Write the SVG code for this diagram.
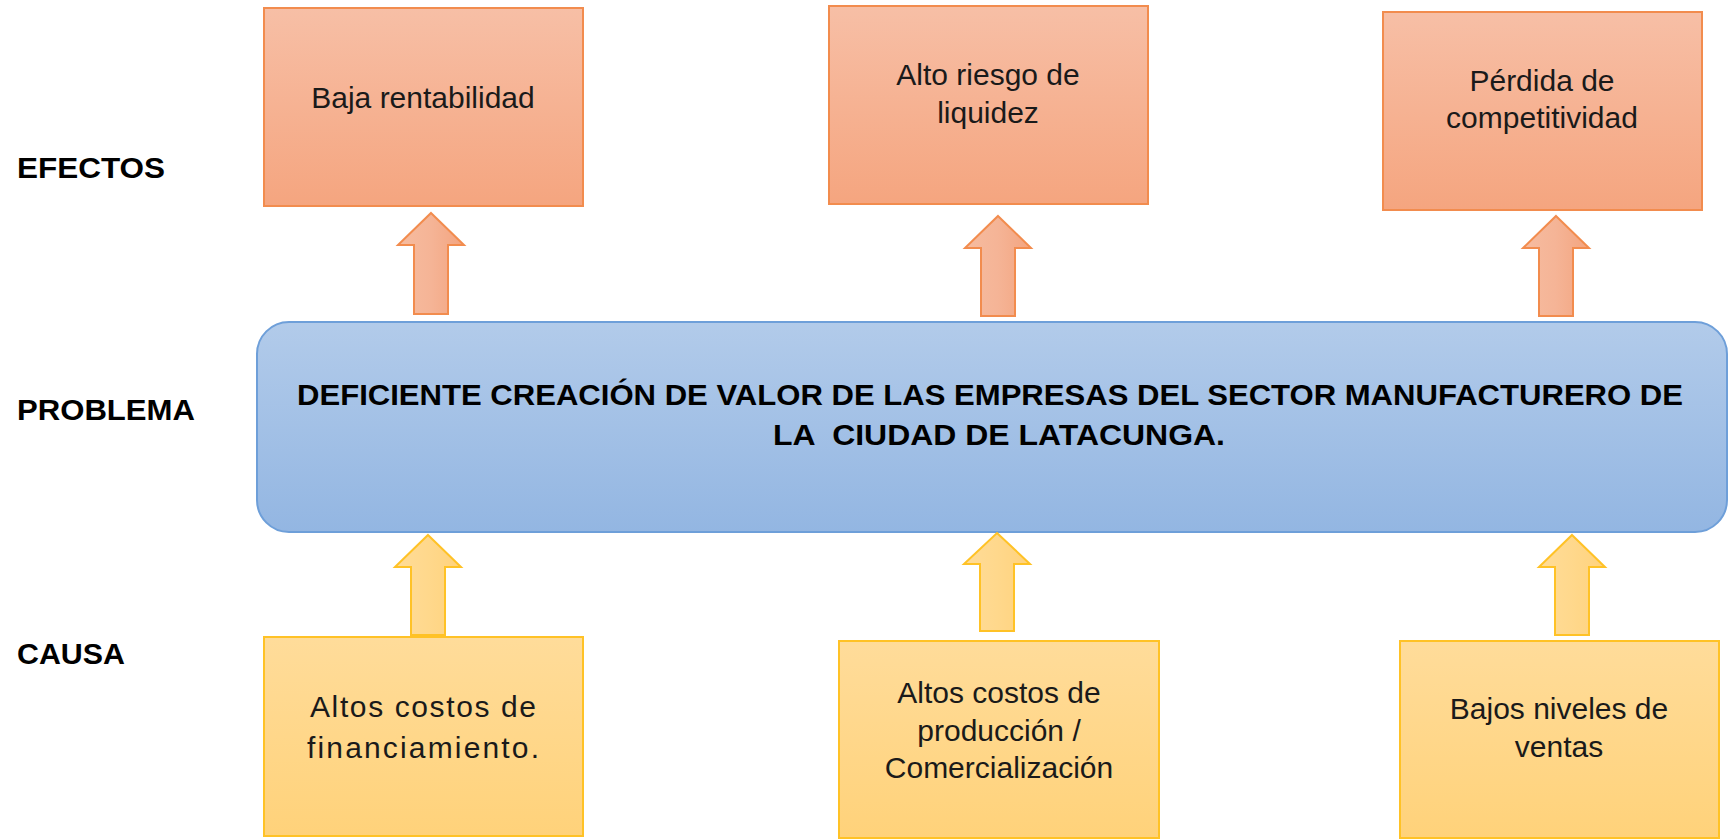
<svg xmlns="http://www.w3.org/2000/svg" width="1731" height="839" viewBox="0 0 1731 839">
<defs>
<linearGradient id="gOrange" x1="0" y1="0" x2="0" y2="1"><stop offset="0" stop-color="#F7BFA6"/><stop offset="1" stop-color="#F5A57F"/></linearGradient>
<linearGradient id="gYellow" x1="0" y1="0" x2="0" y2="1"><stop offset="0" stop-color="#FFDC9A"/><stop offset="1" stop-color="#FFD27A"/></linearGradient>
<linearGradient id="gBlue" x1="0" y1="0" x2="0" y2="1"><stop offset="0" stop-color="#B2CBEA"/><stop offset="1" stop-color="#93B6E2"/></linearGradient>
<linearGradient id="gArrO" x1="0" y1="0" x2="1" y2="0"><stop offset="0" stop-color="#F6BCA0"/><stop offset="0.5" stop-color="#F5B496"/><stop offset="1" stop-color="#F3A47F"/></linearGradient>
<linearGradient id="gArrY" x1="0" y1="0" x2="1" y2="0"><stop offset="0" stop-color="#FFDC98"/><stop offset="0.5" stop-color="#FFD88C"/><stop offset="1" stop-color="#FFD27C"/></linearGradient>
</defs>
<style>
.eff{fill:url(#gOrange);stroke:#F28C4E;stroke-width:2}
.cau{fill:url(#gYellow);stroke:#FFC226;stroke-width:2}
.prob{fill:url(#gBlue);stroke:#6E9FD9;stroke-width:2}
.arrO{fill:url(#gArrO);stroke:#F28C4E;stroke-width:2;stroke-linejoin:miter}
.arrY{fill:url(#gArrY);stroke:#FFC226;stroke-width:2;stroke-linejoin:miter}
.t{font-family:"Liberation Sans",Arial,sans-serif;font-size:30px;fill:#1a1a1a;text-anchor:middle}
.lbl{font-family:"Liberation Sans",Arial,sans-serif;font-size:29px;font-weight:bold;fill:#000}
.pt{font-family:"Liberation Sans",Arial,sans-serif;font-size:29px;font-weight:bold;fill:#000}
</style>
<rect width="1731" height="839" fill="#ffffff"/>

<g id="labels">
<text class="lbl" x="17" y="178" textLength="148" lengthAdjust="spacingAndGlyphs">EFECTOS</text>
<text class="lbl" x="17" y="420" textLength="178" lengthAdjust="spacingAndGlyphs">PROBLEMA</text>
<text class="lbl" x="17" y="664" textLength="108" lengthAdjust="spacingAndGlyphs">CAUSA</text>
</g>

<g id="efecto1">
<rect class="eff" x="264" y="8" width="319" height="198"/>
<text class="t" x="423" y="108">Baja rentabilidad</text>
</g>
<g id="efecto2">
<rect class="eff" x="829" y="6" width="319" height="198"/>
<text class="t" x="988" y="85">Alto riesgo de</text>
<text class="t" x="988" y="123">liquidez</text>
</g>
<g id="efecto3">
<rect class="eff" x="1383" y="12" width="319" height="198"/>
<text class="t" x="1542" y="91">Pérdida de</text>
<text class="t" x="1542" y="128">competitividad</text>
</g>

<g id="problema">
<rect class="prob" x="257" y="322" width="1470" height="210" rx="32" ry="32"/>
<text class="pt" x="297" y="405" textLength="1386" lengthAdjust="spacingAndGlyphs">DEFICIENTE CREACIÓN DE VALOR DE LAS EMPRESAS DEL SECTOR MANUFACTURERO DE</text>
<text class="pt" x="773" y="445" textLength="452" lengthAdjust="spacingAndGlyphs" xml:space="preserve">LA  CIUDAD DE LATACUNGA.</text>
</g>

<g id="causa1">
<rect class="cau" x="264" y="637" width="319" height="199"/>
<text class="t" x="423" y="717" textLength="226" lengthAdjust="spacing">Altos costos de</text>
<text class="t" x="423" y="758" textLength="232" lengthAdjust="spacing">financiamiento.</text>
</g>
<g id="causa2">
<rect class="cau" x="839" y="641" width="320" height="197"/>
<text class="t" x="999" y="703">Altos costos de</text>
<text class="t" x="999" y="741">producción /</text>
<text class="t" x="999" y="778">Comercialización</text>
</g>
<g id="causa3">
<rect class="cau" x="1400" y="641" width="319" height="197"/>
<text class="t" x="1559" y="719">Bajos niveles de</text>
<text class="t" x="1559" y="757">ventas</text>
</g>

<g id="connectors">
<polygon class="arrO" points="431,213 464,245 448,245 448,314 414,314 414,245 398,245"/>
<polygon class="arrO" points="998,216 1031,248 1015,248 1015,316 981,316 981,248 965,248"/>
<polygon class="arrO" points="1556,216 1589,248 1573,248 1573,316 1539,316 1539,248 1523,248"/>
<polygon class="arrY" points="428,535 461,567 445,567 445,635 411,635 411,567 395,567"/>
<polygon class="arrY" points="997,533 1030,564 1014,564 1014,631 980,631 980,564 964,564"/>
<polygon class="arrY" points="1572,535 1605,567 1589,567 1589,635 1555,635 1555,567 1539,567"/>
</g>
</svg>
